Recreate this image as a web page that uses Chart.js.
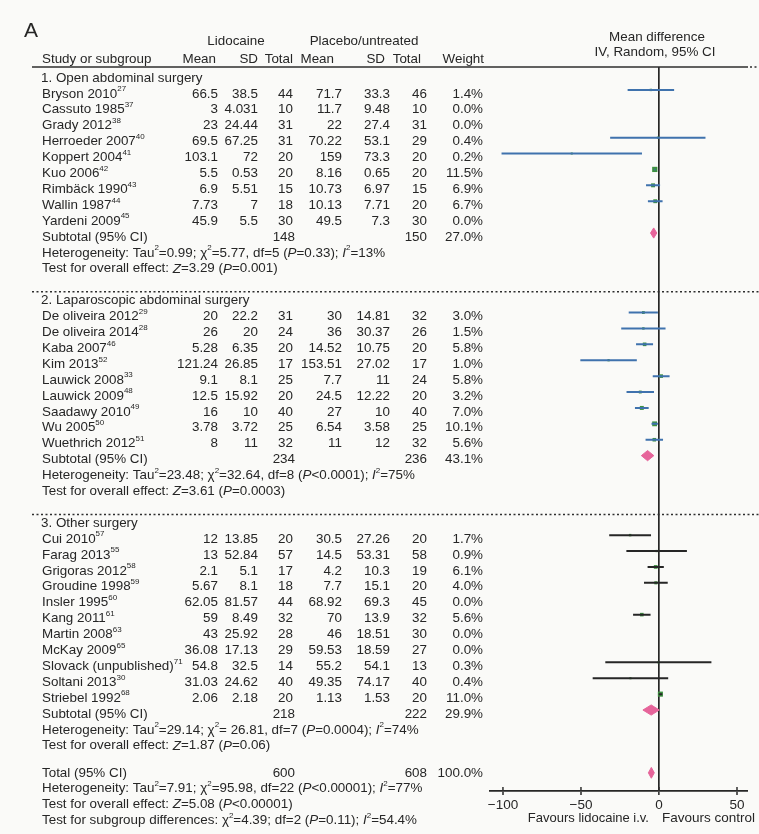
<!DOCTYPE html>
<html><head><meta charset="utf-8">
<script src="https://cdn.jsdelivr.net/npm/chart.js@4.4.0/dist/chart.umd.min.js"></script>
<style>html,body{margin:0;padding:0;background:#fafaf8;}canvas{display:block}</style>
</head><body>
<canvas id="c" width="759" height="834"></canvas>
<script>
// ---------- DATA ----------
const groupTitles = ['1. Open abdominal surgery', '2. Laparoscopic abdominal surgery', '3. Other surgery'];

const studyNames = ['Bryson 2010','Cassuto 1985','Grady 2012','Herroeder 2007','Koppert 2004','Kuo 2006','Rimbäck 1990','Wallin 1987','Yardeni 2009',
  'De oliveira 2012','De oliveira 2014','Kaba 2007','Kim 2013','Lauwick 2008','Lauwick 2009','Saadawy 2010','Wu 2005','Wuethrich 2012',
  'Cui 2010','Farag 2013','Grigoras 2012','Groudine 1998','Insler 1995','Kang 2011','Martin 2008','McKay 2009','Slovack (unpublished)','Soltani 2013','Striebel 1992'];
const studyRefs = ['27','37','38','40','41','42','43','44','45',
  '29','28','46','52','33','48','49','50','51',
  '57','55','58','59','60','61','63','65','71','30','68'];
const studyGroup = [0,0,0,0,0,0,0,0,0, 1,1,1,1,1,1,1,1,1, 2,2,2,2,2,2,2,2,2,2,2];

const lidoMean = [66.5,3,23,69.5,103.1,5.5,6.9,7.73,45.9, 20,26,5.28,121.24,9.1,12.5,16,3.78,8, 12,13,2.1,5.67,62.05,59,43,36.08,54.8,31.03,2.06];
const lidoSD   = [38.5,4.031,24.44,67.25,72,0.53,5.51,7,5.5, 22.2,20,6.35,26.85,8.1,15.92,10,3.72,11, 13.85,52.84,5.1,8.1,81.57,8.49,25.92,17.13,32.5,24.62,2.18];
const lidoN    = [44,10,31,31,20,20,15,18,30, 31,24,20,17,25,20,40,25,32, 20,57,17,18,44,32,28,29,14,40,20];
const placMean = [71.7,11.7,22,70.22,159,8.16,10.73,10.13,49.5, 30,36,14.52,153.51,7.7,24.5,27,6.54,11, 30.5,14.5,4.2,7.7,68.92,70,46,59.53,55.2,49.35,1.13];
const placSD   = [33.3,9.48,27.4,53.1,73.3,0.65,6.97,7.71,7.3, 14.81,30.37,10.75,27.02,11,12.22,10,3.58,12, 27.26,53.31,10.3,15.1,69.3,13.9,18.51,18.59,54.1,74.17,1.53];
const placN    = [46,10,31,29,20,20,15,20,30, 32,26,20,17,24,20,40,25,32, 20,58,19,20,45,32,30,27,13,40,20];
const weightPct = [1.4,0.0,0.0,0.4,0.2,11.5,6.9,6.7,0.0, 3.0,1.5,5.8,1.0,5.8,3.2,7.0,10.1,5.6, 1.7,0.9,6.1,4.0,0.0,5.6,0.0,0.0,0.3,0.4,11.0];

// Mean difference and 95% CI as plotted (null = not plotted)
const mdValue = [-5.2,null,null,-0.7,-55.9,-2.7,-3.8,-2.4,null, -10,-10,-9.2,-32.3,1.4,-12,-11,-2.8,-3, -18.5,-1.5,-2.1,-2.0,null,-11,null,null,-0.4,-18.3,0.9];
const ciLow   = [-20.1,null,null,-31.3,-100.9,-3.0,-8.3,-7.1,null, -19.4,-24.2,-14.7,-50.4,-4.0,-20.8,-15.4,-4.8,-8.6, -31.9,-20.9,-7.3,-9.6,null,-16.6,null,null,-34.4,-42.5,-0.2];
const ciHigh  = [9.7,null,null,29.8,-10.9,-2.3,0.7,2.3,null, -0.7,4.2,-3.8,-14.2,6.8,-3.2,-6.6,-0.7,2.6, -5.1,17.9,3.1,5.6,null,-5.4,null,null,33.6,5.9,2.1];

// Subgroups and overall
const subLidoN = [148, 234, 218];
const subPlacN = [150, 236, 222];
const subWeight = [27.0, 43.1, 29.9];
const subMD = [-3.4, -7.3, -5.0];
const subLow = [-5.4, -11.3, -10.3];
const subHigh = [-1.4, -3.3, 0.2];
const subHet = [
  'Heterogeneity: Tau{2}=0.99; χ{2}=5.77, df=5 (_P_=0.33); _I_{2}=13%',
  'Heterogeneity: Tau{2}=23.48; χ{2}=32.64, df=8 (_P_<0.0001); _I_{2}=75%',
  'Heterogeneity: Tau{2}=29.14; χ{2}= 26.81, df=7 (_P_=0.0004); _I_{2}=74%'];
const subEffect = [
  'Test for overall effect: _Z_=3.29 (_P_=0.001)',
  'Test for overall effect: _Z_=3.61 (_P_=0.0003)',
  'Test for overall effect: _Z_=1.87 (_P_=0.06)'];
const totalLidoN = 600, totalPlacN = 608, totalWeight = 100.0;
const totalMD = -4.9, totalLow = -6.8, totalHigh = -3.0;
const totalLines = [
  'Heterogeneity: Tau{2}=7.91; χ{2}=95.98, df=22 (_P_<0.00001); _I_{2}=77%',
  'Test for overall effect: _Z_=5.08 (_P_<0.00001)',
  'Test for subgroup differences: χ{2}=4.39; df=2 (_P_=0.11); _I_{2}=54.4%'];
const xTicks = [-100, -50, 0, 50];

// ---------- LAYOUT (row slots) ----------
const slotStudy = [], slotSub = [], slotHet = [], slotEff = [], slotHead = [], slotSep = [];
(function(){
  let s = 0;
  for (let g = 0; g < 3; g++) {
    if (g > 0) { slotSep.push(s - 0.55); }
    slotHead.push(s); s += 1;
    studyGroup.forEach((gg, i) => { if (gg === g) { slotStudy[i] = s; s += 1; } });
    slotSub.push(s); slotHet.push(s + 1); slotEff.push(s + 2);
    s += 4;
  }
})();
const slotTotal = slotEff[2] + 1.7;
const MARK_SHIFT = -0.25;

const FONT = '"Liberation Sans", Arial, sans-serif';
const FS = 13.4;
const TXT = '#262626';
const BLUE = '#3f72ad', DARK = '#262626', GREEN = '#3d9140', PINK = '#e6649a';

// ---------- DATASETS ----------
const ciBlue = [], ciDark = [], squares = [], sqRadius = [];
studyNames.forEach((_, i) => {
  if (ciLow[i] == null) return;
  const y = slotStudy[i] + MARK_SHIFT;
  const tgt = studyGroup[i] === 2 ? ciDark : ciBlue;
  tgt.push({x: ciLow[i], y}, {x: ciHigh[i], y}, {x: null, y: null});
  squares.push({x: mdValue[i], y});
  sqRadius.push(1.4 + weightPct[i] * 0.2);
});
function diamond(md, lo, hi, y, h) {
  return [{x: lo, y}, {x: md, y: y - h}, {x: hi, y}, {x: md, y: y + h}, {x: lo, y}];
}
const diamondSets = [];
for (let g = 0; g < 3; g++) diamondSets.push(diamond(subMD[g], subLow[g], subHigh[g], slotSub[g] + MARK_SHIFT, 0.32));
diamondSets.push(diamond(totalMD, totalLow, totalHigh, slotTotal, 0.34));

const datasets = [
  {data: ciBlue, showLine: true, borderColor: BLUE, borderWidth: 2, pointRadius: 0, spanGaps: false},
  {data: ciDark, showLine: true, borderColor: DARK, borderWidth: 2, pointRadius: 0, spanGaps: false},
  {data: squares, pointStyle: 'rect', pointRadius: sqRadius, backgroundColor: GREEN, borderColor: GREEN, borderWidth: 0},
  ...diamondSets.map(d => ({data: d, showLine: true, fill: 'shape', backgroundColor: PINK, borderColor: PINK, borderWidth: 1, pointRadius: 0}))
];

// ---------- TEXT HELPERS ----------
function parseRich(s) {
  const segs = []; let buf = '', it = false, i = 0;
  while (i < s.length) {
    const c = s[i];
    if (c === '_') { if (buf) segs.push({t: buf, it, sup: false}); buf = ''; it = !it; i++; }
    else if (c === '{') { if (buf) segs.push({t: buf, it, sup: false}); buf = ''; const j = s.indexOf('}', i); segs.push({t: s.slice(i + 1, j), it: false, sup: true}); i = j + 1; }
    else { buf += c; i++; }
  }
  if (buf) segs.push({t: buf, it, sup: false});
  return segs;
}
function drawRich(ctx, s, x, y, align, size) {
  size = size || FS;
  const segs = parseRich(String(s));
  const f = sg => (sg.it ? 'italic ' : '') + (sg.sup ? Math.round(size * 0.62) : size) + 'px ' + FONT;
  let w = 0;
  segs.forEach(sg => { ctx.font = f(sg); sg.w = ctx.measureText(sg.t).width; w += sg.w; });
  let cx = align === 'right' ? x - w : align === 'center' ? x - w / 2 : x;
  ctx.textAlign = 'left'; ctx.textBaseline = 'middle';
  segs.forEach(sg => { ctx.font = f(sg); ctx.fillText(sg.t, cx, sg.sup ? y - size * 0.36 : y); cx += sg.w; });
}

const COL = {lm: 218, ls: 258, ln: 293, pm: 342, ps: 390, pn: 427, w: 483, name: 42};

const tablePlugin = {
  id: 'table',
  beforeDraw(chart) {
    const ctx = chart.ctx;
    ctx.save(); ctx.fillStyle = '#fafaf8'; ctx.fillRect(0, 0, chart.width, chart.height); ctx.restore();
  },
  afterDraw(chart) {
    const ctx = chart.ctx, ys = chart.scales.y, xs = chart.scales.x;
    const Y = v => ys.getPixelForValue(v);
    ctx.save();
    ctx.fillStyle = TXT;
    // Title & headers
    ctx.font = '21px ' + FONT; ctx.textBaseline = 'middle'; ctx.textAlign = 'left';
    ctx.fillText('A', 24, 31);
    drawRich(ctx, 'Lidocaine', 236, 41, 'center');
    drawRich(ctx, 'Placebo/untreated', 364, 41, 'center');
    drawRich(ctx, 'Study or subgroup', COL.name, 59, 'left');
    drawRich(ctx, 'Mean', 216, 59, 'right');
    drawRich(ctx, 'SD', 258, 59, 'right');
    drawRich(ctx, 'Total', 293, 59, 'right');
    drawRich(ctx, 'Mean', 334, 59, 'right');
    drawRich(ctx, 'SD', 385, 59, 'right');
    drawRich(ctx, 'Total', 421, 59, 'right');
    drawRich(ctx, 'Weight', 484, 59, 'right');
    drawRich(ctx, 'Mean difference', 657, 37, 'center');
    drawRich(ctx, 'IV, Random, 95% CI', 655, 52, 'center');

    // header rule
    const topY = chart.chartArea.top;
    ctx.strokeStyle = '#2e2e2e'; ctx.lineWidth = 1.6;
    ctx.beginPath(); ctx.moveTo(32, topY); ctx.lineTo(chart.chartArea.right, topY); ctx.stroke();
    ctx.setLineDash([2, 2.5]); ctx.lineWidth = 1.5;
    ctx.beginPath(); ctx.moveTo(chart.chartArea.right + 2, topY); ctx.lineTo(chart.width, topY); ctx.stroke();
    // group separators
    slotSep.forEach(s => { ctx.beginPath(); ctx.moveTo(32, Y(s)); ctx.lineTo(chart.width, Y(s)); ctx.stroke(); });
    ctx.setLineDash([]);

    // upward part of x tick marks
    const axY = chart.chartArea.bottom;
    ctx.lineWidth = 1.5;
    xTicks.forEach(v => { const px = xs.getPixelForValue(v); ctx.beginPath(); ctx.moveTo(px, axY - 4); ctx.lineTo(px, axY); ctx.stroke(); });

    // groups
    for (let g = 0; g < 3; g++) {
      drawRich(ctx, groupTitles[g], COL.name - 1, Y(slotHead[g]), 'left');
      studyNames.forEach((nm, i) => {
        if (studyGroup[i] !== g) return;
        const y = Y(slotStudy[i]);
        drawRich(ctx, nm + '{' + studyRefs[i] + '}', COL.name, y, 'left');
        drawRich(ctx, lidoMean[i], COL.lm, y, 'right');
        drawRich(ctx, lidoSD[i], COL.ls, y, 'right');
        drawRich(ctx, lidoN[i], COL.ln, y, 'right');
        drawRich(ctx, placMean[i], COL.pm, y, 'right');
        drawRich(ctx, placSD[i], COL.ps, y, 'right');
        drawRich(ctx, placN[i], COL.pn, y, 'right');
        drawRich(ctx, weightPct[i].toFixed(1) + '%', COL.w, y, 'right');
      });
      const ys2 = Y(slotSub[g]);
      drawRich(ctx, 'Subtotal (95% CI)', COL.name, ys2, 'left');
      drawRich(ctx, subLidoN[g], COL.ln + 2, ys2, 'right');
      drawRich(ctx, subPlacN[g], COL.pn, ys2, 'right');
      drawRich(ctx, subWeight[g].toFixed(1) + '%', COL.w, ys2, 'right');
      drawRich(ctx, subHet[g], COL.name, Y(slotHet[g]), 'left');
      drawRich(ctx, subEffect[g], COL.name, Y(slotEff[g]), 'left');
    }
    // total
    const yt = Y(slotTotal);
    drawRich(ctx, 'Total (95% CI)', COL.name, yt, 'left');
    drawRich(ctx, totalLidoN, COL.ln + 2, yt, 'right');
    drawRich(ctx, totalPlacN, COL.pn, yt, 'right');
    drawRich(ctx, totalWeight.toFixed(1) + '%', COL.w, yt, 'right');
    totalLines.forEach((t, k) => drawRich(ctx, t, COL.name, Y(slotTotal + 1 + k), 'left'));

    // favours labels
    const x0 = xs.getPixelForValue(0);
    drawRich(ctx, 'Favours lidocaine i.v.', x0 - 10, 818, 'right', 13);
    drawRich(ctx, 'Favours control', x0 + 3, 818, 'left', 13.5);
    ctx.restore();
  }
};

const ROW_PX = 15.9, FIRST_ROW_Y = 78, AREA_TOP = 67, AREA_BOTTOM = 791;

new Chart(document.getElementById('c'), {
  type: 'scatter',
  data: {datasets},
  options: {
    responsive: false, animation: false, devicePixelRatio: 1,
    layout: {padding: {left: 490, right: 11, top: AREA_TOP, bottom: 834 - AREA_BOTTOM - 28}},
    plugins: {legend: {display: false}, tooltip: {enabled: false}},
    scales: {
      x: {
        type: 'linear', min: -108.3, max: 57.05,
        afterBuildTicks: s => { s.ticks = xTicks.map(v => ({value: v})); },
        afterFit: s => { s.height = 28; },
        ticks: {callback: v => (v < 0 ? '\u2212' + Math.abs(v) : String(v)), color: '#262626', font: {family: 'Liberation Sans', size: 13.5}, padding: 2, maxRotation: 0, autoSkip: false},
        grid: {
          drawOnChartArea: true,
          color: c => (c.tick && c.tick.value === 0 ? '#262626' : 'rgba(0,0,0,0)'),
          lineWidth: c => (c.tick && c.tick.value === 0 ? 1.7 : 0),
          tickColor: '#262626', tickLength: 4, tickWidth: 1.5
        },
        border: {display: true, color: '#262626', width: 1.7}
      },
      y: {
        type: 'linear', reverse: true, display: false,
        min: (AREA_TOP - FIRST_ROW_Y) / ROW_PX, max: (AREA_BOTTOM - FIRST_ROW_Y) / ROW_PX
      }
    }
  },
  plugins: [tablePlugin]
});
</script>
</body></html>
